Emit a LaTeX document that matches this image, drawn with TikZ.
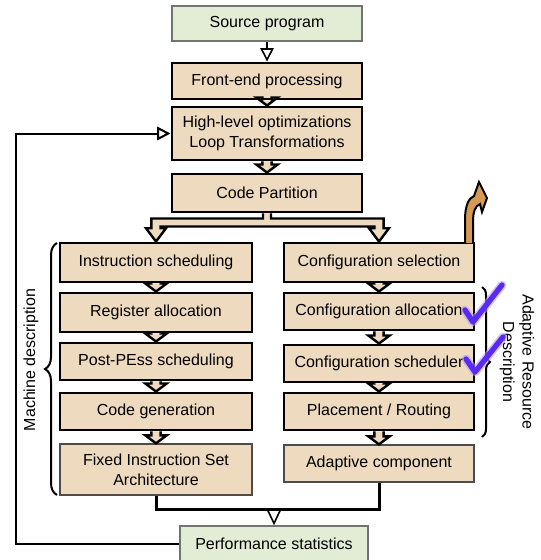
\documentclass[tikz,border=0pt]{standalone}
\usepackage{fontspec}
\setmainfont{Liberation Sans}
\usetikzlibrary{arrows.meta,decorations.pathreplacing,calc}
\definecolor{boxtan}{HTML}{EEDABF}
\definecolor{boxgreen}{HTML}{E3EDD5}
\definecolor{arrorange}{HTML}{D49A55}
\definecolor{checkblue}{HTML}{5A2AF0}
\newcommand\blockdn[2]{\draw[blockarrow] let \p1=(#1.south), \p2=(#2.north) in (\x1-3.5pt,\y1) -- (\x1-3.5pt,\y2+6pt) -- (\x1-8pt,\y2+6pt) -- (\x1,\y2) -- (\x1+8pt,\y2+6pt) -- (\x1+3.5pt,\y2+6pt) -- (\x1+3.5pt,\y1);}
\begin{document}
\begin{tikzpicture}[x=0.75pt,y=-0.75pt,font=\fontsize{12}{15}\selectfont,
  sz/.style 2 args={minimum width=#1*0.75pt,minimum height=#2*0.75pt},
  thickbox/.style={draw=black,line width=2.2pt,fill=boxtan,align=center,inner sep=0pt},
  thinbox/.style={draw=black!70,line width=1pt,fill=boxtan,align=center,inner sep=0pt},
  greenbox/.style={draw=black!55,line width=1pt,fill=boxgreen,align=center,inner sep=0pt},
  blockarrow/.style={draw=black,line width=1.8pt,fill=boxtan,line join=miter},
  fb/.style={line width=1.5pt},
  merge/.style={line width=2.25pt},
  opentri/.style={line width=1.2pt,-{Triangle[open,length=10pt,width=10pt]}},
  checkmk/.style={draw=checkblue,line width=4pt,line join=round,line cap=round},
  checkglow/.style={draw=checkblue!45,line width=6.5pt,line join=round,line cap=round,opacity=0.6},
  bracestyle/.style={decorate,line width=1.5pt}
]
\useasboundingbox (0,0) rectangle (540,560);

% top column
\node[greenbox,sz={190}{35}] (src) at (267,23.5) {Source program};
\node[thickbox,sz={190}{36}] (fe) at (267,81) {Front-end processing};
\node[thickbox,sz={190}{53}] (hl) at (267,133.5) {High-level optimizations\\Loop Transformations};
\node[thickbox,sz={190}{38}] (cp) at (267,193) {Code Partition};

% left column
\node[thickbox,sz={192}{39}] (is) at (156,262.5) {Instruction scheduling};
\node[thickbox,sz={192}{39}] (ra) at (156,312.5) {Register allocation};
\node[thickbox,sz={192}{37}] (ps) at (156,361.5) {Post-PEss scheduling};
\node[thickbox,sz={192}{37}] (cg) at (156,411.5) {Code generation};
\node[thinbox,sz={192}{51}] (fisa) at (156,469.5) {Fixed Instruction Set\\Architecture};

% right column
\node[thickbox,sz={190}{39}] (cs) at (379,262.5) {Configuration selection};
\node[thickbox,sz={190}{37}] (ca) at (379,311.5) {Configuration allocation};
\node[thickbox,sz={190}{37}] (csch) at (379,363.5) {Configuration scheduler};
\node[thickbox,sz={190}{37}] (pr) at (379,411.5) {Placement / Routing};
\node[thinbox,sz={190}{37}] (ac) at (379,463.5) {Adaptive component};

\node[greenbox,sz={188}{35}] (perf) at (274,543.5) {Performance statistics};

% arrows
\draw[opentri] (src.south) -- (fe.north);
\blockdn{fe}{hl}
\blockdn{hl}{cp}
\blockdn{is}{ra}
\blockdn{ra}{ps}
\blockdn{ps}{cg}
\blockdn{cg}{fisa}
\blockdn{cs}{ca}
\blockdn{ca}{csch}
\blockdn{csch}{pr}
\blockdn{pr}{ac}

% split arrow
\draw[blockarrow] let \p1=(cp.south), \p2=(is.north), \p3=(cs.north) in
  (\x1-3pt,\y1) -- (\x1-3pt,\y1-3.75pt) -- (\x2-3.5pt,\y1-3.75pt) -- (\x2-3.5pt,\y2+10pt)
  -- (\x2-7.5pt,\y2+10pt) -- (\x2,\y2) -- (\x2+7.5pt,\y2+10pt) -- (\x2+3.5pt,\y2+10pt)
  -- (\x2+3.5pt,\y1-9.75pt) -- (\x3-3.5pt,\y1-9.75pt) -- (\x3-3.5pt,\y2+10pt)
  -- (\x3-7.5pt,\y2+10pt) -- (\x3,\y2) -- (\x3+7.5pt,\y2+10pt) -- (\x3+3.5pt,\y2+10pt)
  -- (\x3+3.5pt,\y1-3.75pt) -- (\x1+3pt,\y1-3.75pt) -- (\x1+3pt,\y1);

% merge to performance statistics
\draw[merge] (fisa.south) -- ++(0,14) -| (ac.south);
\draw[line width=1.2pt,-{Triangle[open,length=12pt,width=11pt]}] ($(perf.north)+(0,-17)$) -- (perf.north);

% feedback
\coordinate (fbx) at (16,0);
\draw[fb,-{Triangle[open,length=10pt,width=10pt]}] (perf.west) -- (perf.west -| fbx) |- (hl.west);

% braces
\draw[bracestyle,decoration={brace,amplitude=9pt}] (57,495) -- (57,243);
\node[rotate=90] (md) at (31,360) {Machine description};
\draw[bracestyle,decoration={brace,amplitude=6pt}] (482,287) -- (482,437);
\node[rotate=-90,align=center,font=\fontsize{12}{14.5}\selectfont] (ard) at (517,362) {Adaptive Resource\\Description};

% orange arrow
\draw[fill=arrorange,line width=1.5pt,line join=miter]
  (465,243) -- (465,220) .. controls (465,205) and (469,198) .. (474,196)
  -- (479,182) -- (487,198) -- (482,212) -- (480,204)
  .. controls (475,206) and (473,212) .. (473,222) -- (473,243);

% check marks
\draw[checkglow] (465,310) -- (473,322) -- (502,285);
\draw[checkmk] (465,310) -- (473,322) -- (502,285);
\draw[checkglow] (466,359) -- (475,372) -- (503,337);
\draw[checkmk] (466,359) -- (475,372) -- (503,337);
\end{tikzpicture}
\end{document}
